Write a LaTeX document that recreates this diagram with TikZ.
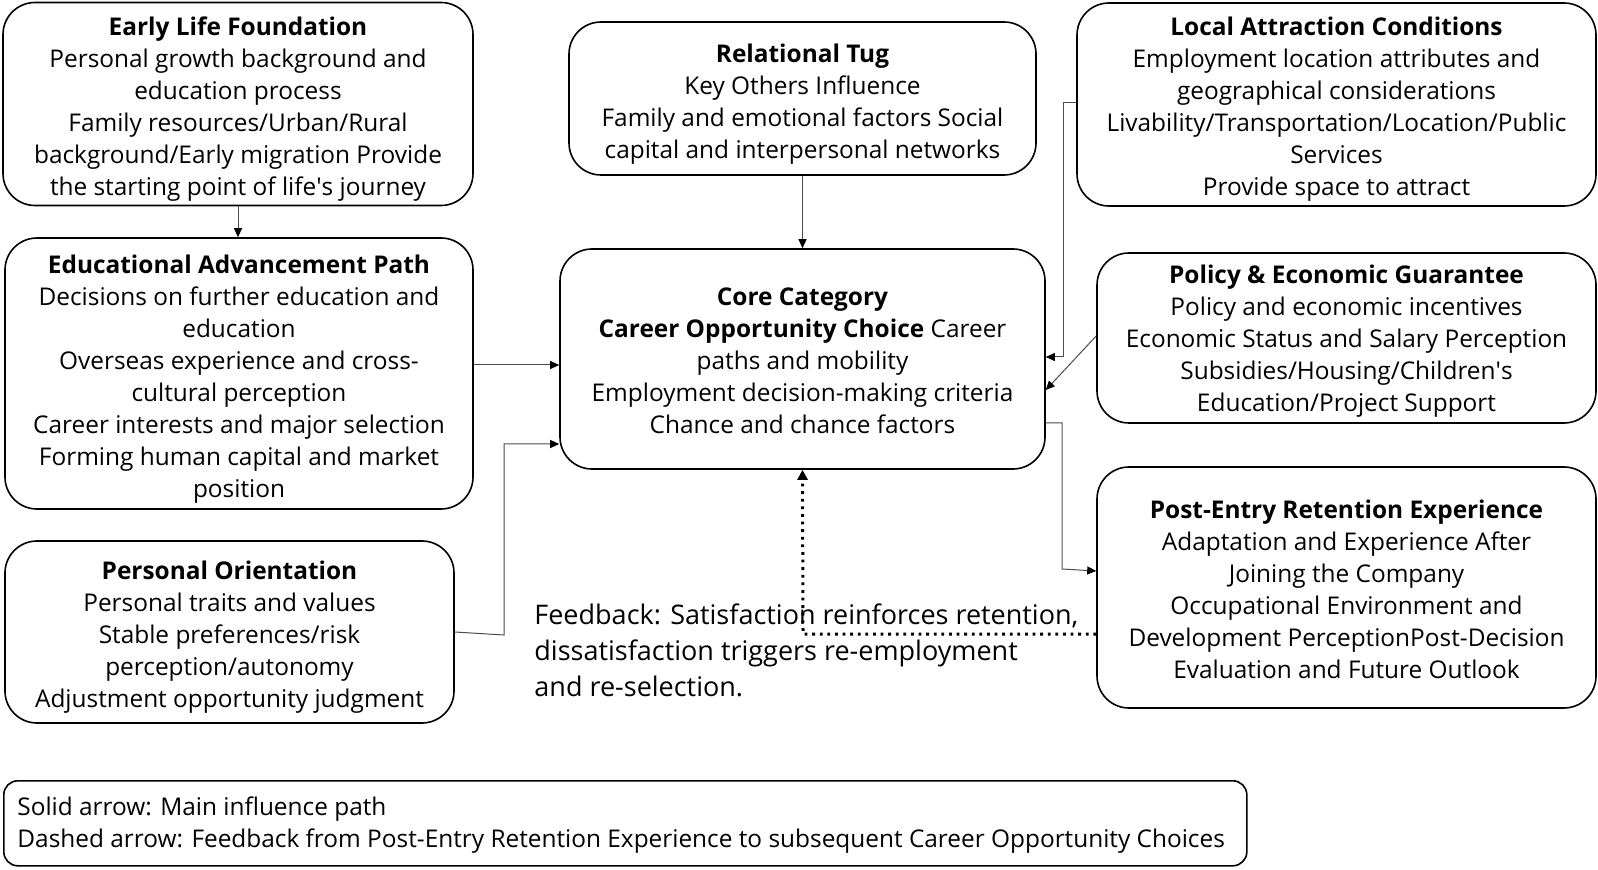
\documentclass[tikz,border=0pt]{standalone}
\usepackage{fontspec}
\setmainfont{Open Sans}
\usetikzlibrary{arrows.meta,calc}
\begin{document}
\begin{tikzpicture}[x=0.5pt,y=-0.5pt,
  box/.style={draw=black,line width=0.8pt,rounded corners=16pt,inner sep=0pt},
  txt/.style={align=center,inner sep=0pt,font=\fontsize{12.2}{16}\selectfont},
  conn/.style={draw=black!70,line width=0.5pt,-{Triangle[length=4.5pt,width=4pt,fill=black,color=black]}},
  fb/.style={draw=black,line width=1.5pt,dash pattern=on 1.4pt off 2.4pt,
    -{Triangle[length=5pt,width=5pt]}},
  plain/.style={inner sep=0pt,align=left}]
\useasboundingbox (0,0) rectangle (1598,870);
% boxes
\node[box,minimum width=235pt,minimum height=101.5pt] (early) at (238,104) {};
\node[box,minimum width=234pt,minimum height=135.5pt] (edu) at (239,373.5) {};
\node[box,minimum width=224.5pt,minimum height=91pt] (pers) at (229.5,632) {};
\node[box,minimum width=233.5pt,minimum height=76.5pt] (rel) at (802.5,98.5) {};
\node[box,minimum width=242.5pt,minimum height=110pt] (core) at (802.5,359) {};
\node[box,minimum width=259.5pt,minimum height=101.5pt] (local) at (1336.5,104.5) {};
\node[box,minimum width=249.5pt,minimum height=85pt] (policy) at (1346.5,338) {};
\node[box,minimum width=249.5pt,minimum height=120.5pt] (post) at (1346.5,587.5) {};
\node[box,anchor=north west,minimum width=621.5pt,minimum height=42.5pt,rounded corners=7pt] (legend) at (3,780) {};
% box texts
\node[txt] (earlyT) at ([yshift=-2.5pt]early.center)
 {\textbf{Early Life Foundation}\\Personal growth background and\\education process\\Family resources/Urban/Rural\\background/Early migration Provide\\the starting point of life\textquotesingle s journey};
\node[txt] (eduT) at ([yshift=-3pt]edu.center)
 {\textbf{Educational Advancement Path}\\Decisions on further education and\\education\\Overseas experience and cross-\\cultural perception\\Career interests and major selection\\Forming human capital and market\\position};
\node[txt] (persT) at ([yshift=-2.5pt]pers.center)
 {\textbf{Personal Orientation}\\Personal traits and values\\Stable preferences/risk\\perception/autonomy\\Adjustment opportunity judgment};
\node[txt] (relT) at ([yshift=-3pt]rel.center)
 {\textbf{Relational Tug}\\Key Others Influence\\Family and emotional factors Social\\capital and interpersonal networks};
\node[txt] (coreT) at ([yshift=-1pt]core.center)
 {\textbf{Core Category}\\\textbf{Career Opportunity Choice} Career\\paths and mobility\\Employment decision-making criteria\\Chance and chance factors};
\node[txt] (localT) at ([yshift=-2.5pt]local.center)
 {\textbf{Local Attraction Conditions}\\Employment location attributes and\\geographical considerations\\Livability/Transportation/Location/Public\\Services\\Provide space to attract};
\node[txt] (policyT) at ([yshift=-1.5pt]policy.center)
 {\textbf{Policy \& Economic Guarantee}\\Policy and economic incentives\\Economic Status and Salary Perception\\Subsidies/Housing/Children\textquotesingle s\\Education/Project Support};
\node[txt] (postT) at ([yshift=-1pt]post.center)
 {\textbf{Post-Entry Retention Experience}\\Adaptation and Experience After\\Joining the Company\\Occupational Environment and\\Development PerceptionPost-Decision\\Evaluation and Future Outlook};
\node[plain,anchor=west,font=\fontsize{12.2}{16}\selectfont] (legtext) at (17,825.5)
 {Solid arrow: Main influence path\\Dashed arrow: Feedback from Post-Entry Retention Experience to subsequent Career Opportunity Choices};
\node[plain,anchor=west,font=\fontsize{13.5}{18}\selectfont] (fbtext) at (534,650)
 {Feedback: Satisfaction reinforces retention,\\dissatisfaction triggers re-employment\\and re-selection.};
% helper coordinates
\coordinate (c365) at (0,365);
\coordinate (c444) at (0,444);
\coordinate (c632) at (0,632);
\coordinate (p1) at (504,635);
\coordinate (p2) at (504,444);
\coordinate (c103) at (0,103);
\coordinate (l1) at (1063,103);
\coordinate (l2) at (1063,357);
\coordinate (c357) at (0,357);
\coordinate (c336) at (0,336);
\coordinate (c390) at (0,390);
\coordinate (c423) at (0,423);
\coordinate (q1) at (1062,423);
\coordinate (q2) at (1062,569);
\coordinate (c571) at (0,571);
\coordinate (c634) at (0,634);
\coordinate (f1) at (803,634);
% connectors
\draw[conn] (early.south) -- (early.south |- edu.north);
\draw[conn] (rel.south) -- (core.north);
\draw[conn] (edu.east |- c365) -- (core.west |- c365);
\draw[conn] (pers.east |- c632) -- (p1) -- (p2) -- (core.west |- c444);
\draw[conn] (local.west |- c103) -- (l1) -- (l2) -- (core.east |- c357);
\draw[conn] (policy.west |- c336) -- (core.east |- c390);
\draw[conn] (core.east |- c423) -- (q1) -- (q2) -- (post.west |- c571);
\draw[fb] (post.west |- c634) -- (f1) -- (core.south);
\end{tikzpicture}
\end{document}
